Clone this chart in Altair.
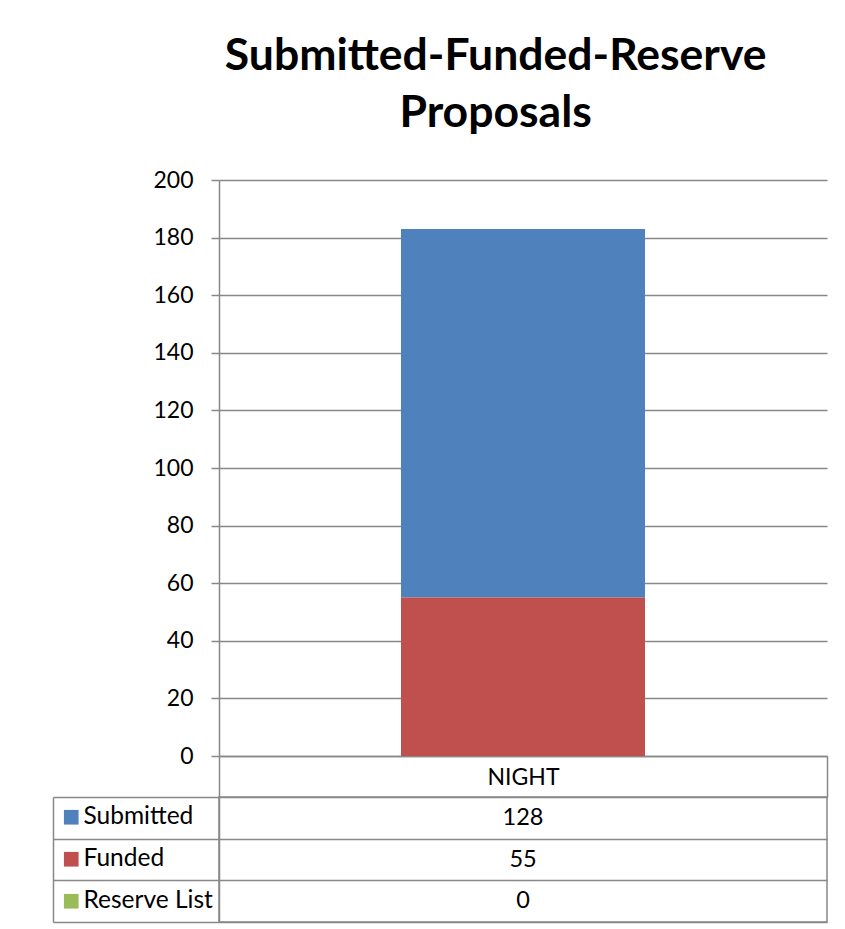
import altair as alt
import pandas as pd

title_lines = ["Submitted-Funded-Reserve", "Proposals"]
category = ["NIGHT"]
series = ["Submitted", "Funded", "Reserve List"]
values = [128, 55, 0]
stack_order = [1, 0, 2]
colors = ["#4F81BD", "#C0504D", "#9BBB59"]
y_ticks = [0, 20, 40, 60, 80, 100, 120, 140, 160, 180, 200]

FONT = "Lato"
GRAY = "#888888"

df = pd.DataFrame({
    "Category": [category[0]] * len(series),
    "Series": series,
    "Value": values,
    "Order": stack_order,
})

top = alt.Chart(df).mark_bar(size=244).encode(
    x=alt.X("Category:N", sort=category, title=None,
            scale=alt.Scale(paddingInner=0, paddingOuter=0),
            axis=alt.Axis(labelAngle=0, domainColor=GRAY, domainWidth=1.5,
                          tickColor=GRAY, tickWidth=1.5, tickSize=41,
                          tickBand="extent", grid=False,
                          labelFont=FONT, labelFontSize=23, labelColor="black",
                          labelBaseline="middle", labelPadding=-20)),
    y=alt.Y("Value:Q", stack="zero", title=None,
            scale=alt.Scale(domain=[0, 200], nice=False),
            axis=alt.Axis(values=y_ticks, domainColor=GRAY, domainWidth=1.5,
                          tickColor=GRAY, tickWidth=1.5, tickSize=8,
                          gridColor=GRAY, gridWidth=1.3,
                          labelFont=FONT, labelFontSize=23, labelColor="black",
                          labelPadding=18)),
    color=alt.Color("Series:N",
                    scale=alt.Scale(domain=series, range=colors),
                    legend=alt.Legend(orient="none", legendX=-160, legendY=625,
                                      title=None, symbolType="square",
                                      symbolSize=215, symbolStrokeWidth=0,
                                      labelFont=FONT, labelFontSize=24.5,
                                      labelColor="black", labelOffset=0,
                                      rowPadding=17, padding=0)),
    order=alt.Order("Order:Q"),
).properties(width=608, height=576, view=alt.ViewBackground(stroke=None))

base = alt.Chart(df).encode(
    x=alt.X("Category:N", sort=category, title=None, axis=None),
    y=alt.Y("Series:N", sort=series, title=None,
            scale=alt.Scale(paddingInner=0, paddingOuter=0)),
)

cells = base.mark_text(font=FONT, fontSize=23.5, color="black", baseline="middle").encode(
    y=alt.Y("Series:N", sort=series, title=None,
            scale=alt.Scale(paddingInner=0, paddingOuter=0),
            axis=alt.Axis(orient="left", labels=False, domainColor=GRAY,
                          domainWidth=1.5, tickColor=GRAY, tickWidth=1.5,
                          tickSize=166, tickBand="extent", grid=True,
                          gridColor=GRAY, gridWidth=1.5)),
    text=alt.Text("Value:Q"),
)

left_edge = base.mark_text(opacity=0).encode(
    y=alt.Y("Series:N", sort=series, title=None,
            scale=alt.Scale(paddingInner=0, paddingOuter=0),
            axis=alt.Axis(orient="left", offset=166, labels=False, ticks=False,
                          grid=False, domainColor=GRAY, domainWidth=1.5)),
    text=alt.Text("Value:Q"),
)

table = alt.layer(cells, left_edge).resolve_axis(y="independent").properties(
    width=608, height=125,
    view=alt.ViewBackground(stroke=GRAY, strokeWidth=1.5),
)

chart = alt.vconcat(top, table, spacing=41, bounds="flush").properties(
    title=alt.Title(text=title_lines, font=FONT, fontSize=44.5, fontWeight="bold",
                    color="black", anchor="middle", dx=56, dy=-29, lineHeight=57),
    autosize=alt.AutoSizeParams(type="pad"),
    padding={"left": 43, "top": 25, "right": 5, "bottom": 2},
)

chart.save("out.html", embed_options={"renderer": "svg", "actions": False})
